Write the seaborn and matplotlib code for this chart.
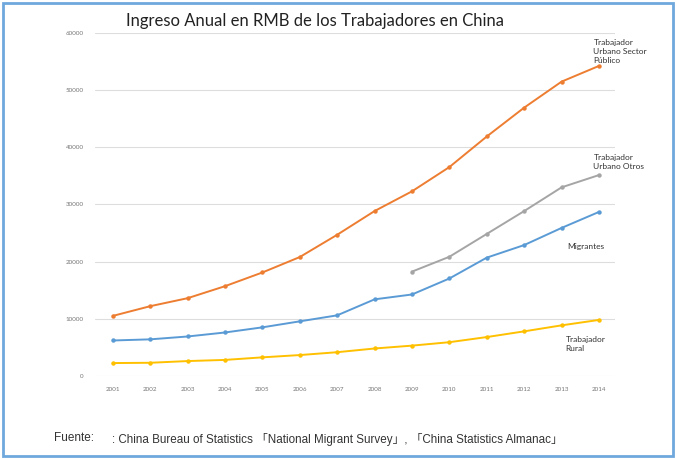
import numpy as np
import pandas as pd
import matplotlib
matplotlib.use("Agg")
import matplotlib.pyplot as plt
import seaborn as sns
from matplotlib.patches import Rectangle

years = list(range(2001, 2015))
publico = [10500, 12200, 13600, 15700, 18100, 20800, 24700, 28850, 32300, 36550, 41900, 46950, 51500, 54250]
otros_years = [2009, 2010, 2011, 2012, 2013, 2014]
otros = [18250, 20850, 24850, 28850, 33000, 35150]
migrantes = [6200, 6400, 6900, 7600, 8500, 9550, 10600, 13400, 14250, 17050, 20700, 22900, 25900, 28700]
rural = [2250, 2300, 2600, 2800, 3250, 3650, 4150, 4800, 5300, 5900, 6800, 7800, 8850, 9800]

series_names = ["Trabajador\nUrbano Sector\nPúblico", "Trabajador\nUrbano Otros", "Migrantes", "Trabajador\nRural"]
colors = ["#ED7D31", "#A5A5A5", "#5B9BD5", "#FFC000"]
yticks = [0, 10000, 20000, 30000, 40000, 50000, 60000]

rows = []
for y, v in zip(years, publico):
    rows.append((y, v, series_names[0]))
for y, v in zip(otros_years, otros):
    rows.append((y, v, series_names[1]))
for y, v in zip(years, migrantes):
    rows.append((y, v, series_names[2]))
for y, v in zip(years, rural):
    rows.append((y, v, series_names[3]))
df = pd.DataFrame(rows, columns=["year", "value", "serie"])

sns.set_theme(style="white")
plt.rcParams['font.family'] = ['Lato', 'DejaVu Sans']

fig = plt.figure(figsize=(6.77, 4.59), dpi=100)
ax = fig.add_axes([0.140, 0.181, 0.768, 0.747])

sns.lineplot(data=df, x="year", y="value", hue="serie", hue_order=series_names,
             palette=colors, marker="o", markersize=3.2, markeredgewidth=0,
             linewidth=1.4, legend=False, ax=ax)

ax.set_xlim(2000.52, 2014.42)
ax.set_ylim(0, 60000)
ax.set_yticks(yticks)
ax.set_yticklabels([str(v) for v in yticks], fontsize=4.5, color="#777777")
ax.set_xticks(years)
ax.set_xticklabels([str(y) for y in years], fontsize=4.5, color="#777777")
ax.tick_params(axis="both", length=0, pad=8)
ax.yaxis.grid(True, color="#DDDDDD", linewidth=0.8)
ax.xaxis.grid(False)
for s in ax.spines.values():
    s.set_visible(False)
ax.set_xlabel("")
ax.set_ylabel("")

# series labels
ax.text(2013.85, 56800, series_names[0], fontsize=6, color="#333333", va="center", ha="left", linespacing=1.3)
ax.text(2013.85, 37500, series_names[1], fontsize=6, color="#333333", va="center", ha="left", linespacing=1.3)
ax.text(2013.15, 22700, series_names[2], fontsize=6, color="#333333", va="center", ha="left")
ax.text(2013.1, 5600, series_names[3], fontsize=6, color="#333333", va="center", ha="left", linespacing=1.3)

fig.text(0.465, 0.955, "Ingreso Anual en RMB de los Trabajadores en China", fontsize=12,
         ha="center", va="center", color="#222222")
fig.text(0.080, 0.045, "Fuente:", fontsize=8.5, ha="left", va="center", color="#333333",
         family=['Liberation Sans', 'DejaVu Sans'])
fig.text(0.165, 0.043, ": China Bureau of Statistics 「National Migrant Survey」, 「China Statistics Almanac」",
         fontsize=8.4, ha="left", va="center", color="#333333",
         family=['Liberation Sans', 'Noto Sans CJK SC', 'DejaVu Sans'])

fig.patches.append(Rectangle((0.004, 0.006), 0.990, 0.988, transform=fig.transFigure,
                             fill=False, edgecolor="#6FA8DC", linewidth=2.0))

fig.savefig("out.png", dpi=100)
